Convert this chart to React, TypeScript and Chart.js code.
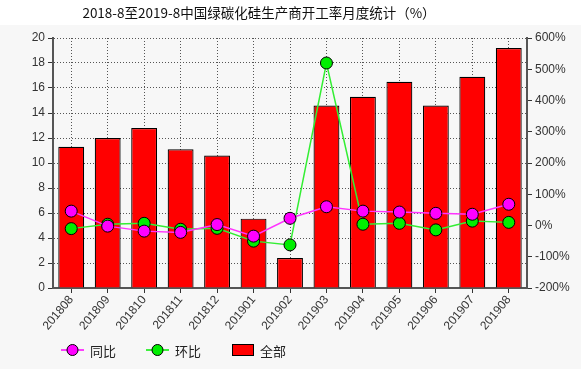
import React, { useEffect, useRef } from "react";
import { Chart, registerables } from "chart.js";

Chart.register(...registerables);

const categories = ["201808", "201809", "201810", "201811", "201812", "201901", "201902", "201903", "201904", "201905", "201906", "201907", "201908"];
const totalValues = [11.3, 12.0, 12.8, 11.1, 10.6, 5.55, 2.4, 14.6, 15.3, 16.5, 14.6, 16.9, 19.2];
const yoyValues = [46, -2, -18, -22, 3, -34, 23, 60, 46, 43, 39, 36, 68];
const momValues = [-10, 4, 7, -12, -9, -50, -62, 520, 4, 7, -14, 14, 10];
const leftTicks = { min: 0, max: 20, step: 2 };
const rightTicks = { min: -200, max: 600, step: 100 };
const titleText = "2018-8至2019-8中国绿碳化硅生产商开工率月度统计（%）";
const legendLabels = ["同比", "环比", "全部"];

const FONT = "'Liberation Sans', Arial, 'Noto Sans CJK SC', sans-serif";

export default function App() {
  const ref = useRef<HTMLCanvasElement>(null);
  useEffect(() => {
    document.body.style.margin = "0";
    const canvas = ref.current!;
    const bgPlugin = {
      id: "bg",
      beforeDraw(chart: any) {
        const c = chart.ctx;
        c.save();
        c.fillStyle = "#f7f7f7";
        c.fillRect(0, 0, chart.width, chart.height);
        c.fillStyle = "#ffffff";
        c.fillRect(0, 0, chart.width, 25);
        c.restore();
      },
    };
    const decoPlugin = {
      id: "deco",
      afterDraw(chart: any) {
        const c = chart.ctx;
        c.save();
        c.fillStyle = "#111";
        c.font = "13.5px 'Noto Sans CJK SC', sans-serif";
        c.textAlign = "center";
        c.textBaseline = "middle";
        c.fillText(titleText, 259, 13);
        // legend
        const ly = 350;
        c.font = "13px 'Noto Sans CJK SC', sans-serif";
        c.textAlign = "left";
        const drawLineItem = (x: number, color: string, label: string) => {
          c.strokeStyle = color;
          c.lineWidth = 1.5;
          c.beginPath();
          c.moveTo(x, ly);
          c.lineTo(x + 23, ly);
          c.stroke();
          c.beginPath();
          c.arc(x + 11.5, ly, 5.5, 0, Math.PI * 2);
          c.fillStyle = color;
          c.fill();
          c.strokeStyle = "#000";
          c.lineWidth = 1;
          c.stroke();
          c.fillStyle = "#222";
          c.fillText(label, x + 29, ly + 1);
        };
        drawLineItem(61, "#ff00ff", legendLabels[0]);
        drawLineItem(146, "#00ee00", legendLabels[1]);
        c.fillStyle = "#ff0000";
        c.fillRect(232, 344, 21, 11);
        c.strokeStyle = "#000";
        c.lineWidth = 1;
        c.strokeRect(232.5, 344.5, 21, 11);
        c.fillStyle = "#222";
        c.fillText(legendLabels[2], 260, ly + 1);
        c.restore();
      },
    };
    const chart = new Chart(canvas, {
      type: "bar",
      data: {
        labels: categories,
        datasets: [
          {
            type: "line",
            label: legendLabels[0],
            data: yoyValues,
            yAxisID: "y1",
            borderColor: "#ff33ff",
            backgroundColor: "#ff00ff",
            borderWidth: 1.5,
            pointRadius: 6,
            pointBorderColor: "#000",
            pointBorderWidth: 1,
            pointBackgroundColor: "#ff00ff",
            order: 0,
          },
          {
            type: "line",
            label: legendLabels[1],
            data: momValues,
            yAxisID: "y1",
            borderColor: "#33ee33",
            backgroundColor: "#00ee00",
            borderWidth: 1.5,
            pointRadius: 6,
            pointBorderColor: "#000",
            pointBorderWidth: 1,
            pointBackgroundColor: "#00ee00",
            order: 1,
          },
          {
            type: "bar",
            label: legendLabels[2],
            data: totalValues,
            yAxisID: "y",
            backgroundColor: "#ff0000",
            borderColor: "#000",
            borderWidth: 1.2,
            categoryPercentage: 1,
            barPercentage: 0.71,
            order: 2,
          },
        ],
      },
      options: {
        responsive: false,
        animation: false,
        events: [],
        layout: { padding: { top: 38, bottom: 0, left: 0, right: 0 } },
        plugins: { legend: { display: false }, title: { display: false }, tooltip: { enabled: false } },
        scales: {
          x: {
            offset: true,
            grid: { display: true, offset: false, color: "#555", drawTicks: true, tickLength: 5, tickColor: "#333" },
            border: { display: true, color: "#555", width: 2, dash: [1, 2] },
            ticks: { color: "#333", font: { size: 12, family: FONT }, minRotation: 50, maxRotation: 50, padding: 0, autoSkip: false },
            afterFit: (s: any) => { s.height = 81; },
          },
          y: {
            position: "left",
            min: leftTicks.min,
            max: leftTicks.max,
            ticks: { stepSize: leftTicks.step, color: "#333", font: { size: 12, family: FONT }, padding: 3 },
            grid: { color: "#555", tickColor: "#333", tickLength: 5 },
            border: { display: true, color: "#555", width: 2, dash: [1, 2] },
            afterFit: (s: any) => { s.width = 53; },
          },
          y1: {
            position: "right",
            min: rightTicks.min,
            max: rightTicks.max,
            ticks: { stepSize: rightTicks.step, color: "#333", font: { size: 12, family: FONT }, padding: 3, callback: (v: any) => v + "%" },
            grid: { drawOnChartArea: false, tickColor: "#333", tickLength: 5 },
            border: { display: true, color: "#555", width: 2 },
            afterFit: (s: any) => { s.width = 54; },
          },
        },
      },
      plugins: [bgPlugin, decoPlugin],
    } as any);
    return () => chart.destroy();
  }, []);
  return <canvas ref={ref} width={581} height={369} style={{ display: "block" }} />;
}
